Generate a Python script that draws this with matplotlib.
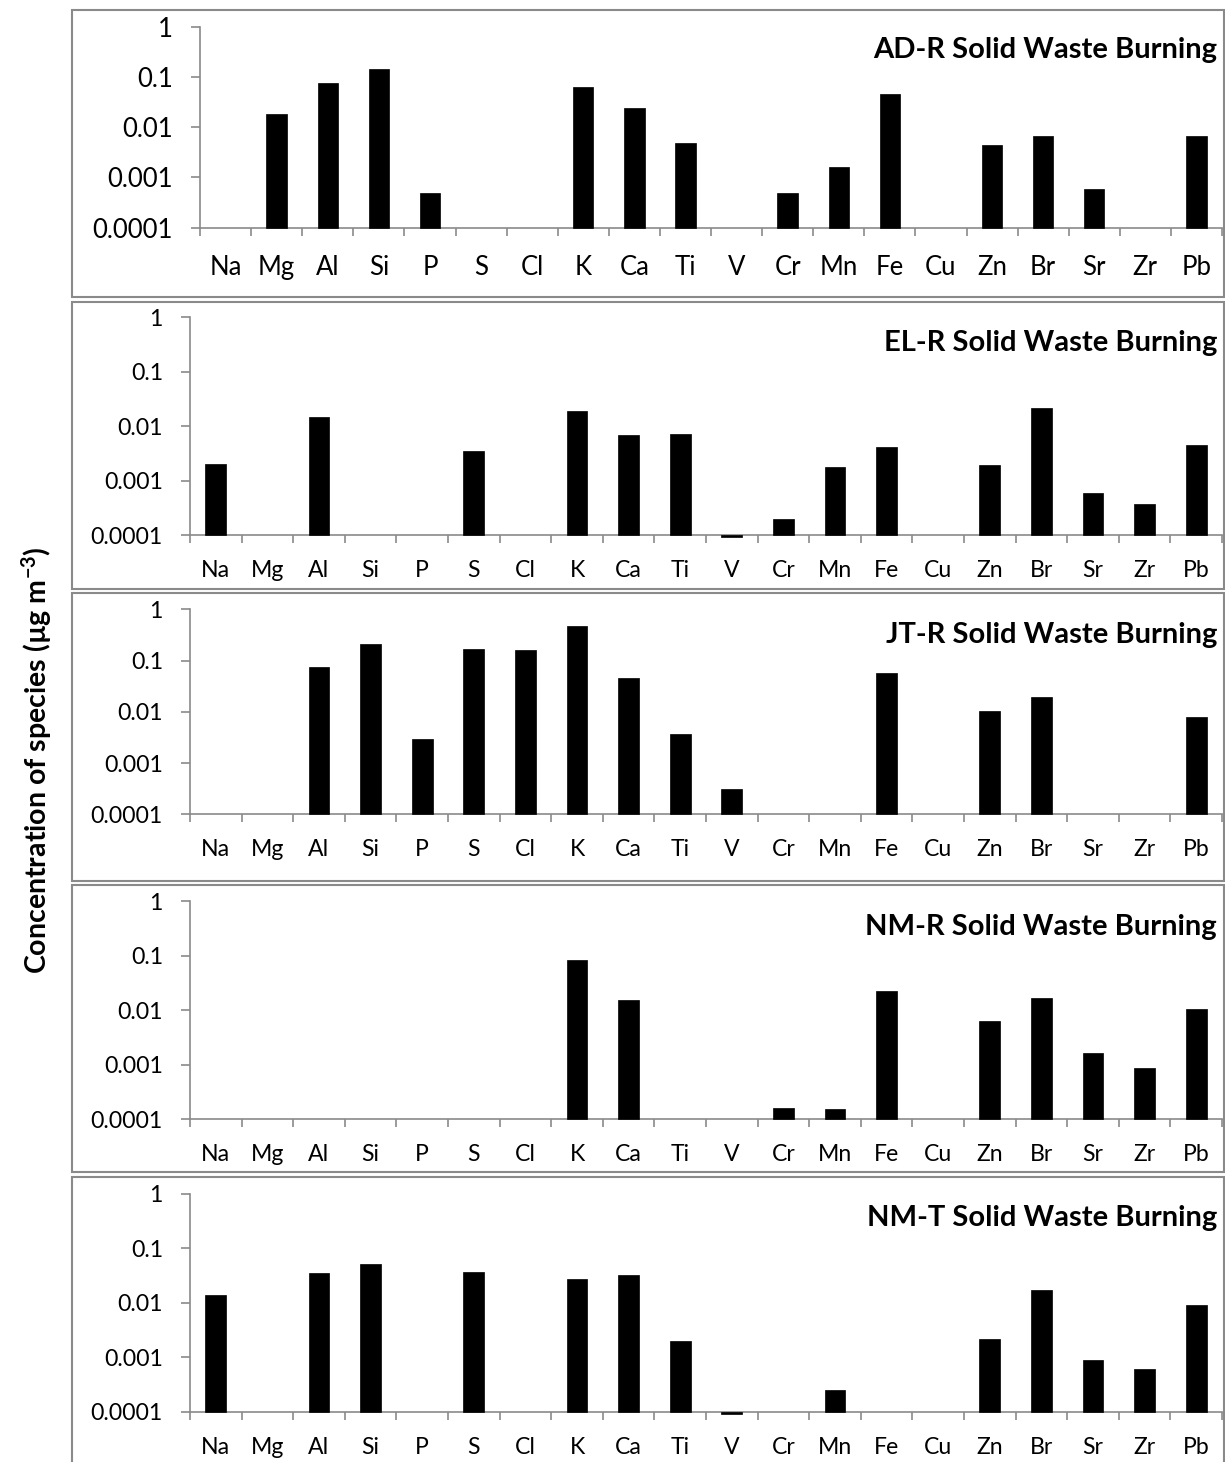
import numpy as np
import matplotlib
matplotlib.use("Agg")
import matplotlib.pyplot as plt
from matplotlib.patches import Rectangle
from matplotlib.ticker import FixedLocator, NullLocator

plt.rcParams["font.family"] = ["Lato", "DejaVu Sans"]
plt.rcParams["mathtext.fontset"] = "custom"
plt.rcParams["mathtext.rm"] = "Lato:bold"
plt.rcParams["mathtext.bf"] = "Lato:bold"
plt.rcParams["mathtext.it"] = "Lato:bold"
plt.rcParams["mathtext.default"] = "bf"

nan = np.nan

elements = ["Na", "Mg", "Al", "Si", "P", "S", "Cl", "K", "Ca", "Ti",
            "V", "Cr", "Mn", "Fe", "Cu", "Zn", "Br", "Sr", "Zr", "Pb"]

site_titles = ["AD-R Solid Waste Burning", "EL-R Solid Waste Burning",
               "JT-R Solid Waste Burning", "NM-R Solid Waste Burning",
               "NM-T Solid Waste Burning"]

# concentrations in µg m-3 (nan = not detected)
ad_r = [nan, 0.0183, 0.0745, 0.144, 0.00048, nan, nan, 0.064, 0.024, 0.00477,
        nan, 0.00048, 0.00159, 0.045, nan, 0.00449, 0.00667, 0.000597, nan, 0.00658]
el_r = [0.00207, nan, 0.0148, nan, nan, 0.00348, nan, 0.0191, 0.00703, 0.00723,
        0.000092, 0.000197, 0.00182, 0.00424, nan, 0.00195, 0.0214, 0.00059, 0.000376, 0.00454]
jt_r = [nan, nan, 0.0738, 0.2075, 0.0030, 0.166, 0.161, 0.466, 0.0457, 0.00369,
        0.000317, nan, nan, 0.0564, nan, 0.0105, 0.0195, nan, nan, 0.00805]
nm_r = [nan, nan, nan, nan, nan, nan, nan, 0.0839, 0.0155, nan,
        nan, 0.000161, 0.000153, 0.0230, nan, 0.00628, 0.0166, 0.00165, 0.000887, 0.0106]
nm_t = [0.0138, nan, 0.0345, 0.052, nan, 0.0371, nan, 0.0276, 0.0318, 0.00198,
        0.000092, nan, 0.00025, nan, nan, 0.00218, 0.0168, 0.0009, 0.000598, 0.00893]

series = [ad_r, el_r, jt_r, nm_r, nm_t]

y_ticks = [0.0001, 0.001, 0.01, 0.1, 1]
y_ticklabels = ["0.0001", "0.001", "0.01", "0.1", "1"]
y_min, y_max = 0.0001, 1

W, H = 1225, 1462
fig = plt.figure(figsize=(W / 100, H / 100), dpi=100)

# panel geometry in pixels: plot area (left, top, right, bottom), frame (top, bottom), title y
plot_px = [(200, 26.7, 1222, 227.7),
           (190, 317.3, 1222, 535.3),
           (190, 609.3, 1222, 814.3),
           (190, 901.3, 1222, 1119.3),
           (190, 1193.7, 1222, 1411.7)]
frame_px = [(10, 297), (302, 589), (593, 881), (885, 1172), (1177, 1470)]
title_y = [50, 343, 635, 927, 1218]
tick_fs = [18.5, 16.6, 16.6, 16.6, 16.6]
xlabel_pad = [20, 18, 18, 18, 18]

grey = "#8a8a8a"

for i, vals in enumerate(series):
    ft, fb = frame_px[i]
    fig.patches.append(Rectangle((72 / W, 1 - fb / H), (1224 - 72) / W, (fb - ft) / H,
                                 transform=fig.transFigure, fill=False,
                                 edgecolor=grey, linewidth=1.5, zorder=0))

    l, t, r, b = plot_px[i]
    ax = fig.add_axes([l / W, 1 - b / H, (r - l) / W, (b - t) / H])
    ax.set_yscale("log")
    ax.set_ylim(y_min, y_max)
    ax.set_xlim(-0.5, len(elements) - 0.5)

    x = np.arange(len(elements))
    v = np.array(vals, dtype=float)
    ok = ~np.isnan(v)
    ax.bar(x[ok], v[ok] - y_min, bottom=y_min, width=0.4, color="black",
           edgecolor="black", linewidth=0.5, clip_on=False, zorder=3)

    for s in ("top", "right"):
        ax.spines[s].set_visible(False)
    for s in ("left", "bottom"):
        ax.spines[s].set_color(grey)
        ax.spines[s].set_linewidth(1.2)

    ax.yaxis.set_major_locator(FixedLocator(y_ticks))
    ax.yaxis.set_minor_locator(NullLocator())
    ax.set_yticklabels(y_ticklabels)
    ax.tick_params(axis="y", which="major", direction="out", length=6.5,
                   width=1.2, color=grey, labelsize=tick_fs[i], pad=13)

    ax.set_xticks(x)
    ax.set_xticklabels(elements)
    ax.set_xticks(np.arange(len(elements) + 1) - 0.5, minor=True)
    ax.tick_params(axis="x", which="major", length=0, labelsize=tick_fs[i],
                   pad=xlabel_pad[i])
    ax.tick_params(axis="x", which="minor", direction="out", length=6,
                   width=1.2, color=grey)
    ax.patch.set_alpha(0)

    fig.text(1217 / W, 1 - title_y[i] / H, site_titles[i], ha="right",
             va="center", fontsize=21, fontweight="bold")

fig.text(37 / W, 1 - 760 / H, "Concentration of species (µg m$^{-3}$)",
         rotation=90, ha="center", va="center", fontsize=20.5, fontweight="bold")

fig.savefig("out.png", dpi=100, facecolor="white")
